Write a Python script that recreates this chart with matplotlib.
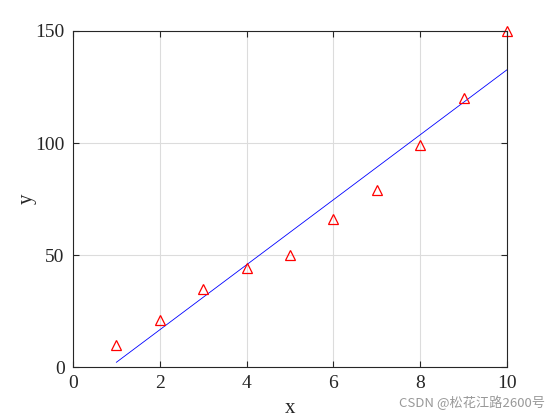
import numpy as np
import matplotlib
matplotlib.use("Agg")
import matplotlib.pyplot as plt

plt.rcParams['font.family'] = ['Liberation Serif', 'DejaVu Serif']

x = [1, 2, 3, 4, 5, 6, 7, 8, 9, 10]
y = [10, 21, 35, 44, 50, 66, 79, 99, 120, 150]

# least squares line through the points
p = np.polyfit(x, y, 1)
xf = np.array([x[0], x[-1]])
yf = np.polyval(p, xf)

fig = plt.figure(figsize=(5.6, 4.2), dpi=100)
ax = fig.add_axes([73/560, 53/420, 434/560, 336/420])

ax.plot(xf, yf, color='blue', linewidth=0.6)
ax.plot(x, y, linestyle='none', marker='^', markersize=6.5, markerfacecolor='none',
        markeredgecolor='red', markeredgewidth=0.9, clip_on=False)

ax.set_xlim(0, 10)
ax.set_ylim(0, 150)
ax.set_xticks([0, 2, 4, 6, 8, 10])
ax.set_yticks([0, 50, 100, 150])
ax.grid(True, color='#dcdcdc', linewidth=0.8)
ax.set_axisbelow(True)
ax.tick_params(direction='in', top=True, right=True, labelsize=14, colors='#262626',
               length=4, width=0.8, pad=6)
for s in ax.spines.values():
    s.set_color('#262626')
    s.set_linewidth(0.8)

ax.set_xlabel('x', fontsize=15, color='#262626', labelpad=5)
ax.set_ylabel('y', fontsize=15, color='#262626', labelpad=-1)

fig.text(0.973, 0.04, 'CSDN @松花江路2600号', ha='right', va='center', fontsize=9.5,
         color='#999999', family=['Noto Sans CJK SC', 'DejaVu Sans'])

fig.savefig('out.png', dpi=100)
